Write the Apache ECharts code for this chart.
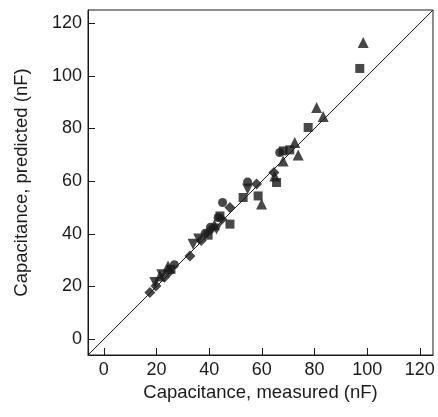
<!DOCTYPE html>
<html>
<head>
<meta charset="utf-8">
<script src="https://cdn.jsdelivr.net/npm/echarts@6/dist/echarts.min.js"></script>
<style>
  html, body { margin: 0; padding: 0; background: #fff; }
  #chart { width: 438px; height: 417px; }
</style>
</head>
<body>
<div id="chart"></div>
<script>
// measured vs predicted capacitance (nF), one array per marker shape
const squares = [[97.2,102.8],[77.6,80.4],[68.1,71.5],[70.6,71.9],[65.6,59.5],[58.6,54.4],[52.9,53.8],[47.9,43.7],[44.1,46.8],[39.6,39.5],[25.5,26.5]];
const triangles = [[98.5,112.7],[80.8,88.0],[83.3,84.6],[72.5,74.7],[73.8,69.9],[68.1,67.7],[64.9,62.0],[59.9,51.3],[21.3,24.0],[24.4,27.8],[42.0,43.5]];
const circles = [[54.6,59.7],[45.1,51.9],[66.8,70.9],[43.4,46.2],[38.5,40.2],[26.8,28.3],[40.5,42.5]];
const diamonds = [[58.0,58.9],[47.9,50.0],[32.7,31.6],[17.5,17.7],[19.8,20.2],[23.0,23.5],[24.8,25.5],[37.0,37.5],[40.5,41.5],[44.8,45.5],[64.6,63.3]];
const downTriangles = [[54.6,57.0],[33.9,36.1],[42.8,41.8],[22.0,24.5],[19.4,21.5],[36.0,38.0]];
const identityLine = [[-6,-6],[125,125]];
const tickValues = [0, 20, 40, 60, 80, 100, 120];

const ink = '#1c1a1b';
const font = 'Liberation Sans';

function axis(name) {
  return {
    type: 'value',
    min: -6,
    max: 125,
    name: name,
    nameLocation: 'middle',
    nameTextStyle: { fontFamily: font, fontSize: 18.5, color: ink },
    axisLine: { show: true, onZero: false, lineStyle: { color: ink, width: 1 } },
    axisTick: { show: true, inside: true, length: 7, customValues: tickValues, lineStyle: { color: ink } },
    axisLabel: { customValues: tickValues, fontFamily: font, fontSize: 18, color: ink, margin: 6 },
    splitLine: { show: false }
  };
}

function scatter(data, symbol, size, rotate) {
  return {
    type: 'scatter',
    data: data,
    symbol: symbol,
    symbolSize: size,
    symbolRotate: rotate || 0,
    itemStyle: { color: ink },
    z: 3
  };
}

const xAxis = axis('Capacitance, measured (nF)');
xAxis.nameGap = 27;
const yAxis = axis('Capacitance, predicted (nF)');
yAxis.nameGap = 57;

const chart = echarts.init(document.getElementById('chart'), null, { renderer: 'canvas' });
chart.setOption({
  animation: false,
  backgroundColor: '#fff',
  grid: { left: 88, right: 5, top: 10, bottom: 62, show: true, borderColor: ink, borderWidth: 1 },
  xAxis: xAxis,
  yAxis: yAxis,
  series: [
    { type: 'line', data: identityLine, symbol: 'none', lineStyle: { color: ink, width: 1 }, z: 2 },
    scatter(squares, 'rect', 9),
    scatter(triangles, 'triangle', 11),
    scatter(circles, 'circle', 9),
    scatter(diamonds, 'diamond', 11),
    scatter(downTriangles, 'triangle', 11, 180)
  ]
});
</script>
</body>
</html>
